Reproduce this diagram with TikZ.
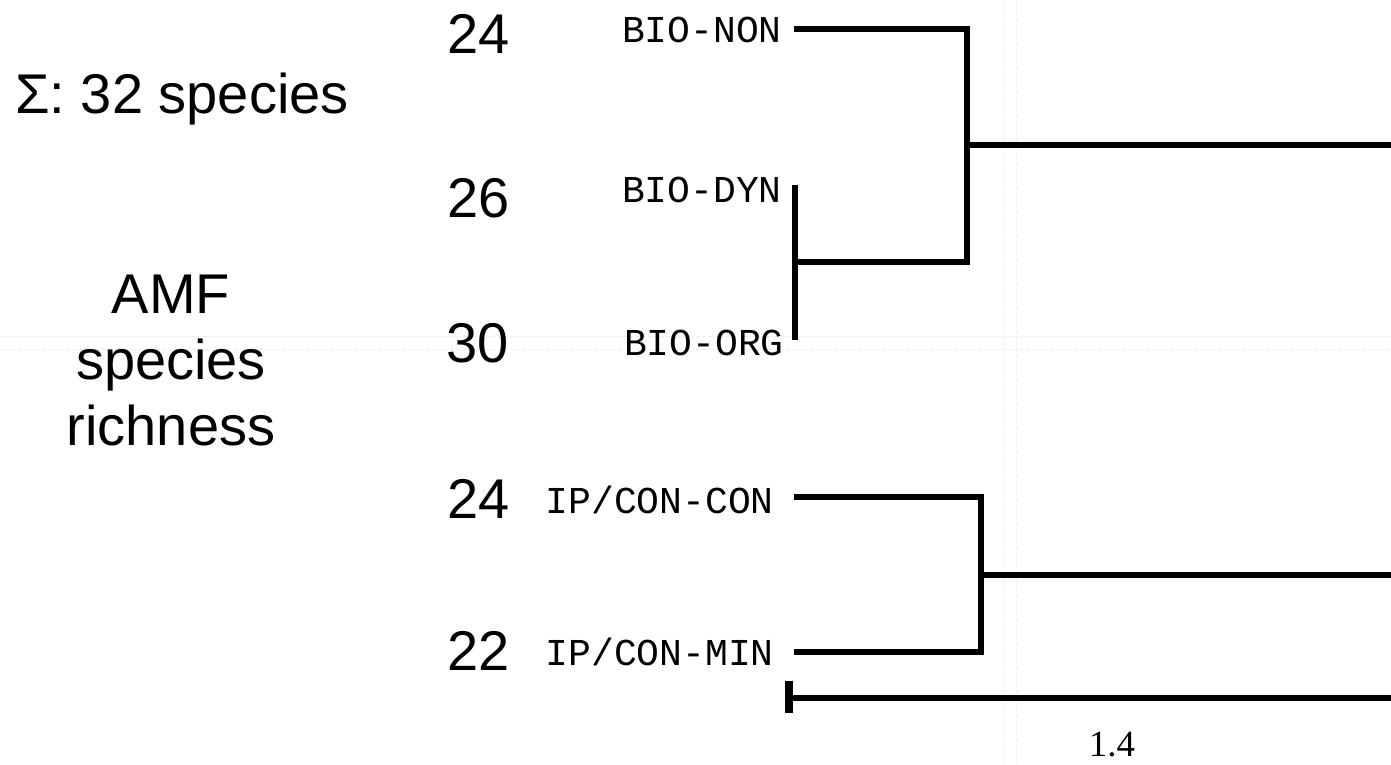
\documentclass[tikz,border=0pt]{standalone}
\usepackage{fontspec}
\setmainfont{Liberation Sans}
\newfontfamily\labmono{Liberation Mono}
\newfontfamily\labserif{Liberation Serif}
\begin{document}
\begin{tikzpicture}[x=1pt,y=-1pt,
  branch/.style={line width=6.5pt,line join=miter,line cap=butt,black},
  guide/.style={line width=0.8pt,color={rgb,255:red,230;green,243;blue,243},dash pattern=on 4pt off 2pt},
  num/.style={font=\fontsize{56}{60}\selectfont,anchor=base east,inner sep=0pt},
  leaf/.style={font=\labmono\fontsize{38}{40}\selectfont,anchor=base east,inner sep=0pt},
  big/.style={font=\fontsize{56}{66}\selectfont,inner sep=0pt}]
\useasboundingbox (0,0) rectangle (1391,764);
\fill[white] (0,0) rectangle (1391,764);
% faint guides
\draw[guide] (0,336) -- (1391,336);
\draw[guide] (0,349) -- (1391,349);
\draw[guide] (1003,0) -- (1003,764);
\draw[guide] (1016,0) -- (1016,764);
% left titles
\node[big,anchor=base west] (sum) at (15,113) {Σ: 32 species};
\node[big,align=center,anchor=base] (amf) at (171,445) {AMF\\species\\richness};
% numbers
\node[num] (n1) at (510,53) {24};
\node[num] (n2) at (510,217) {26};
\node[num] (n3) at (509,362) {30};
\node[num] (n4) at (510,518) {24};
\node[num] (n5) at (510,670) {22};
% leaf labels
\node[leaf] (lnon) at (782,42) {BIO-NON};
\node[leaf] (ldyn) at (782,202) {BIO-DYN};
\node[leaf] (lorg) at (784,355) {BIO-ORG};
\node[leaf] (lcon) at (774,513) {IP/CON-CON};
\node[leaf] (lmin) at (774,665) {IP/CON-MIN};
% tree coordinates
\coordinate (tnon) at (794,29);
\coordinate (tdyn) at (795,185);
\coordinate (torg) at (795,340);
\coordinate (ndo) at (795,262);
\coordinate (nb) at (967,145);
\coordinate (rb) at (1391,145);
\coordinate (tcon) at (794,497);
\coordinate (tmin) at (794,652);
\coordinate (nc) at (981,575);
\coordinate (rc) at (1391,575);
% branches
\draw[branch] (tnon) -| (nb) |- (ndo);
\draw[branch] (tdyn) -- (torg);
\draw[branch] (nb) -- (rb);
\draw[branch] (tcon) -| (nc) |- (tmin);
\draw[branch] (nc) -- (rc);
% scale bar
\coordinate (sbl) at (789,698);
\coordinate (sbr) at (1391,698);
\coordinate (sbt) at (789,681);
\coordinate (sbb) at (789,713);
\draw[branch] (sbl) -- (sbr);
\draw[line width=8pt] (sbt) -- (sbb);
\node[font=\labserif\fontsize{37}{40}\selectfont,anchor=base,inner sep=0pt] (scale) at (1112,756) {1.4};
\end{tikzpicture}
\end{document}
